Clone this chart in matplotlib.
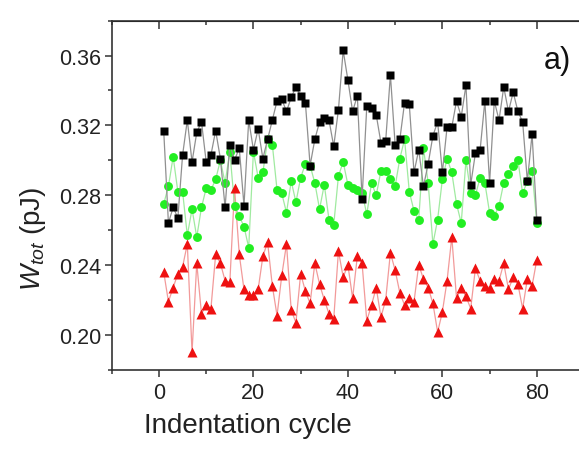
import numpy as np
import matplotlib.pyplot as plt
from matplotlib.ticker import MultipleLocator

plt.rcParams['font.family'] = ['Liberation Sans', 'DejaVu Sans']
plt.rcParams['mathtext.fontset'] = 'custom'
plt.rcParams['mathtext.rm'] = 'Liberation Sans'
plt.rcParams['mathtext.it'] = 'Liberation Sans:italic'

# cycles 1..80
cycle = list(range(1, 81))

# black squares
w_black = [0.317, 0.264, 0.273, 0.267, 0.303, 0.323, 0.299, 0.316, 0.322, 0.299,
           0.303, 0.317, 0.301, 0.273, 0.309, 0.300, 0.307, 0.274, 0.323, 0.306,
           0.318, 0.301, 0.312, 0.323, 0.334, 0.335, 0.328, 0.336, 0.342, 0.337,
           0.333, 0.297, 0.312, 0.322, 0.324, 0.323, 0.308, 0.329, 0.363, 0.346,
           0.328, 0.337, 0.278, 0.331, 0.330, 0.326, 0.310, 0.311, 0.349, 0.309,
           0.312, 0.333, 0.332, 0.293, 0.306, 0.285, 0.298, 0.314, 0.322, 0.293,
           0.319, 0.319, 0.334, 0.325, 0.343, 0.286, 0.304, 0.306, 0.334, 0.287,
           0.334, 0.323, 0.342, 0.328, 0.339, 0.328, 0.322, 0.288, 0.315, 0.266]

# green circles
w_green = [0.275, 0.285, 0.302, 0.282, 0.282, 0.257, 0.272, 0.256, 0.273, 0.284,
           0.283, 0.289, 0.300, 0.287, 0.305, 0.274, 0.268, 0.262, 0.250, 0.305,
           0.290, 0.293, 0.312, 0.309, 0.283, 0.281, 0.270, 0.288, 0.276, 0.290,
           0.298, 0.297, 0.287, 0.272, 0.286, 0.266, 0.263, 0.291, 0.299, 0.286,
           0.284, 0.283, 0.2815, 0.269, 0.287, 0.280, 0.294, 0.294, 0.289, 0.285,
           0.301, 0.312, 0.282, 0.271, 0.266, 0.307, 0.287, 0.252, 0.266, 0.289,
           0.301, 0.293, 0.275, 0.264, 0.300, 0.2815, 0.280, 0.290, 0.287, 0.270,
           0.268, 0.274, 0.287, 0.292, 0.297, 0.300, 0.281, 0.288, 0.294, 0.264]

# red triangles
w_red = [0.236, 0.219, 0.227, 0.235, 0.239, 0.252, 0.190, 0.241, 0.212, 0.217,
         0.215, 0.246, 0.241, 0.231, 0.230, 0.284, 0.246, 0.226, 0.223, 0.223,
         0.226, 0.245, 0.253, 0.228, 0.211, 0.234, 0.252, 0.214, 0.207, 0.235,
         0.225, 0.218, 0.241, 0.229, 0.220, 0.212, 0.209, 0.248, 0.233, 0.240,
         0.221, 0.245, 0.241, 0.208, 0.217, 0.227, 0.210, 0.220, 0.247, 0.237,
         0.224, 0.217, 0.221, 0.219, 0.240, 0.232, 0.227, 0.218, 0.2015, 0.213,
         0.231, 0.256, 0.221, 0.227, 0.222, 0.215, 0.238, 0.231, 0.228, 0.227,
         0.232, 0.231, 0.241, 0.226, 0.233, 0.229, 0.215, 0.232, 0.228, 0.243]

fig = plt.figure(figsize=(5.79, 4.52), dpi=100)
# axes runs a bit past the right edge (panel is cropped)
ax = fig.add_axes([0.193, 0.18, 0.8157, 0.772])

ax.plot(cycle, w_red, '-', color='#f29a9a', lw=0.9, zorder=2)
ax.plot(cycle, w_red, '^', color='#ee1111', ms=6.8, mec='none', zorder=3)
ax.plot(cycle, w_green, '-', color='#a0eaa0', lw=0.9, zorder=2)
ax.plot(cycle, w_green, 'o', color='#22ee22', ms=6.4, mec='none', zorder=3)
ax.plot(cycle, w_black, '-', color='#909090', lw=0.9, zorder=4)
ax.plot(cycle, w_black, 's', color='black', ms=5.6, mec='none', zorder=5)

ax.set_xlim(-10, 90)
ax.set_ylim(0.18, 0.38)
ax.xaxis.set_major_locator(MultipleLocator(20))
ax.xaxis.set_minor_locator(MultipleLocator(10))
ax.yaxis.set_major_locator(MultipleLocator(0.04))
ax.yaxis.set_minor_locator(MultipleLocator(0.02))
ax.yaxis.set_major_formatter(plt.FormatStrFormatter('%.2f'))

for s in ax.spines.values():
    s.set_color('#333333')
    s.set_linewidth(1.2)

ax.tick_params(which='both', direction='out', colors='#333333', width=1.1,
               labelcolor='#222222', labelsize=15.5)
ax.tick_params(which='major', length=4.8)
ax.tick_params(which='minor', length=2.6)
ax.tick_params(axis='y', pad=2.6)
ax.tick_params(axis='x', pad=4)

# mirrored inward ticks on the top axis
top = ax.secondary_xaxis('top')
top.xaxis.set_major_locator(MultipleLocator(20))
top.xaxis.set_minor_locator(MultipleLocator(10))
top.tick_params(which='both', direction='in', colors='#333333', width=1.1,
                labeltop=False)
top.tick_params(which='major', length=5.5)
top.tick_params(which='minor', length=3)

ax.set_xlabel('Indentation cycle', fontsize=20, color='#222222')
ax.xaxis.set_label_coords(0.2875, -0.121)
ax.set_ylabel(r'$W_{tot}$ (pJ)', fontsize=20, color='#222222')
ax.yaxis.set_label_coords(-0.136, 0.379)

fig.text(0.962, 0.865, 'a)', fontsize=22, ha='center', va='center', color='#111111')

fig.savefig('out.png', dpi=100)
